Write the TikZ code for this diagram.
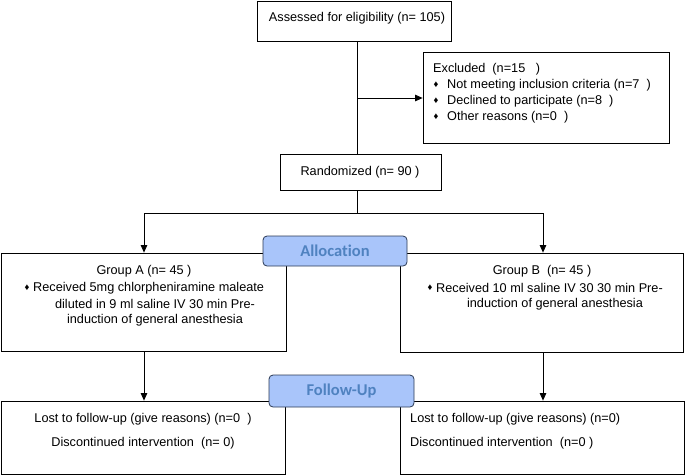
\documentclass[tikz,border=0pt]{standalone}
\usepackage{fontspec}
\setmainfont{Liberation Sans}
\newfontfamily\phasefont[Ligatures=NoCommon]{Carlito}
\usetikzlibrary{arrows.meta}
\definecolor{phasefill}{HTML}{A9C5FA}
\definecolor{phasetext}{HTML}{4F82C0}
\definecolor{phaseborder}{HTML}{2B3A55}
\tikzset{
  box/.style={draw, line width=0.8pt, inner sep=0pt},
  txt/.style={font=\fontsize{12.7}{15}\selectfont, inner sep=0pt},
  bul/.style={font=\fontsize{9.5}{9.5}\selectfont, inner sep=0pt},
  phase/.style={draw=phaseborder, line width=0.8pt, fill=phasefill, rounded corners=4pt, text=phasetext, font=\phasefont\bfseries\fontsize{16.5}{18}\selectfont, inner sep=0pt},
  arr/.style={line width=0.8pt, -{Triangle[length=7.5pt,width=6.5pt]}},
  ln/.style={line width=0.8pt}
}
\begin{document}
\begin{tikzpicture}[x=1pt,y=-1pt]
\useasboundingbox (0,0) rectangle (685,475);
% boxes
\node[box, minimum width=194pt, minimum height=40pt] (assess) at (354,21) {};
\node[box, minimum width=246pt, minimum height=91pt] (excl) at (546,97.5) {};
\node[box, minimum width=161pt, minimum height=36pt] (rand) at (360.5,172) {};
\node[box, minimum width=285pt, minimum height=98pt] (grpA) at (143.5,302) {};
\node[box, minimum width=283pt, minimum height=99pt] (grpB) at (541.5,302.5) {};
\node[box, minimum width=284pt, minimum height=73pt] (botA) at (143,437.5) {};
\node[box, minimum width=284pt, minimum height=73pt] (botB) at (542,437.5) {};
% texts
\node[txt] (tassess) at (357,18) {Assessed for eligibility (n= 105)};
\node[txt, anchor=west] (tex0) at (433,69) {Excluded\ \ (n=15\ \ \ )};
\node[bul] (bx1) at (436,85) {♦};
\node[txt, anchor=west] (tex1) at (447,85) {Not meeting inclusion criteria (n=7\ \ )};
\node[bul] (bx2) at (436,101) {♦};
\node[txt, anchor=west] (tex2) at (447,101) {Declined to participate (n=8\ \ )};
\node[bul] (bx3) at (436,117) {♦};
\node[txt, anchor=west] (tex3) at (447,117) {Other reasons (n=0\ \ )};
\node[txt] (trand) at (360,172) {Randomized (n= 90 )};
\node[txt] (ta0) at (144,271) {Group A (n= 45 )};
\node[bul] (bA) at (27,288) {♦};
\node[txt, anchor=west] (ta1) at (33,288) {Received 5mg chlorpheniramine maleate};
\node[txt] (ta2) at (155,304) {diluted in 9 ml saline IV 30 min Pre-};
\node[txt] (ta3) at (155,320) {induction of general anesthesia};
\node[txt] (tb0) at (542,271) {Group B\ \ (n= 45 )};
\node[bul] (bB) at (430,288) {♦};
\node[txt, anchor=west] (tb1) at (436,288) {Received 10 ml saline IV 30 30 min Pre-};
\node[txt] (tb2) at (555,304) {induction of general anesthesia};
\node[txt] (tc1) at (143,419) {Lost to follow-up (give reasons) (n=0\ \ )};
\node[txt] (tc2) at (143,443) {Discontinued intervention\ \ (n= 0)};
\node[txt, anchor=west] (td1) at (410,419) {Lost to follow-up (give reasons) (n=0)};
\node[txt, anchor=west] (td2) at (410,443) {Discontinued intervention\ \ (n=0 )};
% coordinates
\coordinate (vx) at (357,0);
\coordinate (j1) at (357,98);
\coordinate (j2) at (357,213);
\coordinate (hA) at (144,213);
\coordinate (hB) at (543,213);
% connectors
\draw[ln] (assess.south -| vx) -- (rand.north -| vx);
\draw[arr] (j1) -- (excl.west |- j1);
\draw[ln] (rand.south -| vx) -- (j2);
\draw[ln] (hA) -- (hB);
\draw[arr] (hA) -- (hA |- grpA.north);
\draw[arr] (hB) -- (hB |- grpB.north);
\draw[arr] (grpA.south -| hA) -- (botA.north -| hA);
\draw[arr] (grpB.south -| hB) -- (botB.north -| hB);
% phase labels
\node[phase, minimum width=144pt, minimum height=30pt] (alloc) at (335,251) {Allocation};
\node[phase, minimum width=145pt, minimum height=32pt] (follow) at (341.5,391) {Follow-Up};
\end{tikzpicture}
\end{document}
